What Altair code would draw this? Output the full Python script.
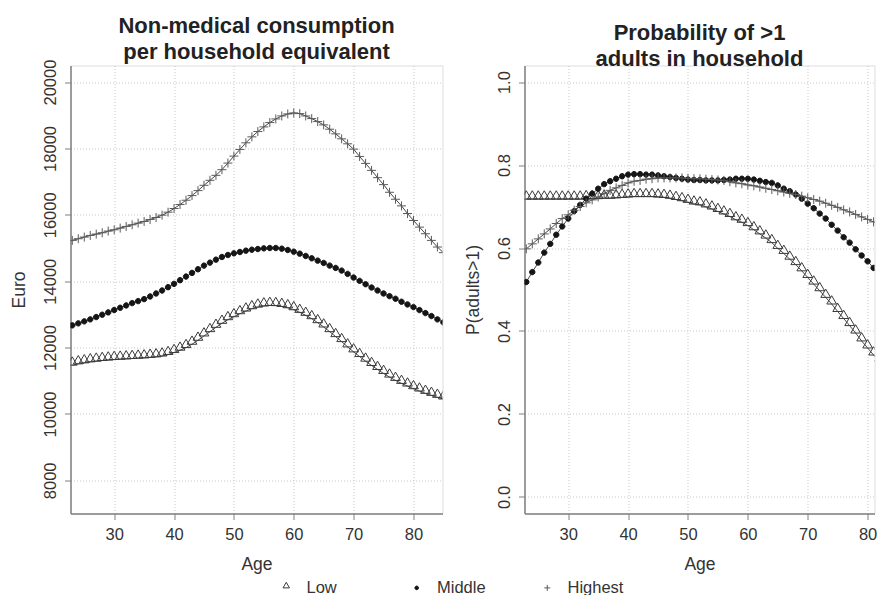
import altair as alt
import pandas as pd

ages = list(range(23, 86))
groups = ["Low", "Middle", "Highest"]

cons_low = [11470, 11510, 11540, 11570, 11590, 11610, 11625, 11640, 11650, 11660,
            11670, 11680, 11690, 11705, 11720, 11745, 11790, 11850, 11920, 12000,
            12100, 12220, 12350, 12480, 12610, 12730, 12840, 12930, 13020, 13100,
            13170, 13220, 13255, 13270, 13265, 13240, 13200, 13140, 13060, 12970,
            12870, 12750, 12620, 12480, 12330, 12180, 12020, 11870, 11730, 11590,
            11460, 11340, 11220, 11110, 11010, 10920, 10840, 10760, 10690, 10620,
            10560, 10500, 10450]
cons_mid = [12670, 12730, 12790, 12850, 12920, 12990, 13060, 13130, 13200, 13270,
            13340, 13400, 13460, 13540, 13630, 13720, 13820, 13920, 14030, 14140,
            14250, 14360, 14470, 14560, 14650, 14730, 14790, 14840, 14880, 14920,
            14950, 14970, 14990, 15000, 15000, 14980, 14940, 14890, 14830, 14760,
            14690, 14620, 14550, 14470, 14400, 14320, 14220, 14110, 14010, 13910,
            13810, 13720, 13630, 13550, 13470, 13380, 13300, 13220, 13130, 13040,
            12950, 12850, 12760]
cons_high = [15230, 15280, 15330, 15380, 15420, 15460, 15510, 15550, 15600, 15650,
             15700, 15750, 15800, 15860, 15920, 15990, 16080, 16190, 16310, 16440,
             16580, 16730, 16890, 17040, 17190, 17360, 17560, 17770, 17970, 18170,
             18350, 18510, 18650, 18780, 18890, 18980, 19040, 19070, 19050, 18980,
             18900, 18810, 18710, 18580, 18440, 18290, 18140, 17980, 17760, 17550,
             17340, 17120, 16910, 16680, 16470, 16270, 16040, 15830, 15630, 15430,
             15230, 15030, 14860]

prob_low = [0.718, 0.718, 0.718, 0.718, 0.718, 0.718, 0.718, 0.718, 0.718, 0.718,
            0.719, 0.719, 0.719, 0.720, 0.720, 0.721, 0.722, 0.723, 0.724, 0.724,
            0.724, 0.724, 0.723, 0.722, 0.720, 0.717, 0.714, 0.710, 0.706, 0.704,
            0.699, 0.694, 0.688, 0.682, 0.676, 0.668, 0.662, 0.654, 0.644, 0.634,
            0.624, 0.613, 0.599, 0.587, 0.573, 0.560, 0.545, 0.529, 0.513, 0.497,
            0.481, 0.465, 0.447, 0.430, 0.413, 0.395, 0.376, 0.359, 0.342, 0.327,
            0.311, 0.296, 0.281]
prob_mid = [0.518, 0.542, 0.565, 0.589, 0.610, 0.632, 0.652, 0.671, 0.689, 0.704,
            0.719, 0.731, 0.743, 0.754, 0.761, 0.767, 0.773, 0.777, 0.778, 0.778,
            0.777, 0.777, 0.775, 0.773, 0.771, 0.769, 0.767, 0.765, 0.764, 0.764,
            0.763, 0.763, 0.763, 0.764, 0.765, 0.767, 0.767, 0.767, 0.765, 0.762,
            0.759, 0.757, 0.751, 0.743, 0.737, 0.729, 0.719, 0.707, 0.696, 0.683,
            0.671, 0.656, 0.642, 0.626, 0.613, 0.597, 0.582, 0.568, 0.552, 0.538,
            0.524, 0.510, 0.496]
prob_high = [0.598, 0.610, 0.622, 0.634, 0.646, 0.659, 0.671, 0.680, 0.691, 0.700,
             0.709, 0.716, 0.723, 0.731, 0.739, 0.745, 0.751, 0.757, 0.761, 0.763,
             0.766, 0.767, 0.769, 0.769, 0.769, 0.769, 0.769, 0.768, 0.767, 0.767,
             0.766, 0.765, 0.764, 0.763, 0.760, 0.757, 0.755, 0.752, 0.750, 0.747,
             0.744, 0.741, 0.738, 0.735, 0.732, 0.729, 0.725, 0.721, 0.717, 0.713,
             0.708, 0.703, 0.698, 0.692, 0.687, 0.681, 0.675, 0.669, 0.663, 0.656,
             0.650, 0.644, 0.638]

x_ticks = [30, 40, 50, 60, 70, 80]
cons_ticks = [8000, 10000, 12000, 14000, 16000, 18000, 20000]
prob_ticks = [0.0, 0.2, 0.4, 0.6, 0.8, 1.0]


def long_frame(low, mid, high):
    rows = []
    for g, vals in zip(groups, [low, mid, high]):
        for a, v in zip(ages, vals):
            rows.append({"age": a, "group": g, "value": v})
    return pd.DataFrame(rows)


cons_df = long_frame(cons_low, cons_mid, cons_high)
prob_df = long_frame(prob_low, prob_mid, prob_high)

FONT = "Liberation Sans"
TRI = "M-1.08,0L1.08,0L0,-1.85Z"
DOT = "M0.6,0A0.6,0.6,0,1,1,-0.6,0A0.6,0.6,0,1,1,0.6,0Z"
PLUS = "M-1,0L1,0M0,-1L0,1"

shape_scale = alt.Scale(domain=groups, range=[TRI, DOT, PLUS])
fill_scale = alt.Scale(domain=groups, range=["transparent", "#151515", "transparent"])
stroke_scale = alt.Scale(domain=groups, range=["#3a3a3a", "#151515", "#5a5a5a"])


def x_axis():
    return alt.Axis(values=x_ticks, title="Age", grid=True, gridDash=[1, 2],
                    gridColor="#c8c8c8", tickSize=6, tickColor="#808080",
                    domainColor="#808080", domainWidth=1.5, labelFontSize=16.5,
                    labelFont=FONT, labelColor="#333333", labelPadding=7,
                    titleFont=FONT, titleFontSize=17.5, titleFontWeight="normal",
                    titleColor="#333333", titlePadding=12)


def y_axis(values, fmt, title):
    return alt.Axis(values=values, format=fmt, title=title, grid=True,
                    gridDash=[1, 2], gridColor="#c8c8c8", tickSize=6,
                    tickColor="#808080", domainColor="#808080", domainWidth=1.5,
                    labelFontSize=16.5, labelFont=FONT, labelColor="#333333",
                    labelAngle=270, labelAlign="center", labelBaseline="bottom",
                    labelPadding=6.5, titleFont=FONT, titleFontSize=17.5,
                    titleFontWeight="normal", titleColor="#333333", titleX=-42)


def panel(df, xdom, ydom, yvals, fmt, ytitle, title, width, show_legend):
    x = alt.X("age:Q", scale=alt.Scale(domain=xdom, nice=False, zero=False), axis=x_axis())
    y = alt.Y("value:Q", scale=alt.Scale(domain=ydom, nice=False, zero=False),
              axis=y_axis(yvals, fmt, ytitle))
    if show_legend:
        leg = alt.Legend(orient="none", legendX=207.5, legendY=514, direction="horizontal",
                         title=None, columns=3, gridAlign="all", columnPadding=45.5,
                         padding=0, symbolSize=36, symbolStrokeWidth=1,
                         labelFontSize=16.5, labelFont=FONT, labelColor="#333333",
                         labelOffset=12)
    else:
        leg = None
    line = alt.Chart(df).mark_line(color="#1a1a1a", strokeWidth=0.8, clip=True).encode(
        x=x, y=y, detail="group:N")
    pts = alt.Chart(df).mark_point(size=81, strokeWidth=1, opacity=1, clip=True).encode(
        x=x, y=y,
        shape=alt.Shape("group:N", scale=shape_scale, legend=leg),
        fill=alt.Fill("group:N", scale=fill_scale, legend=leg),
        stroke=alt.Stroke("group:N", scale=stroke_scale, legend=leg),
    )
    return alt.layer(line, pts).properties(
        width=width, height=448,
        title=alt.TitleParams(text=title, font=FONT, fontSize=22, fontWeight="bold",
                              color="#222222", lineHeight=26, anchor="middle", offset=-5),
    )


left = panel(cons_df, [22.7, 84.85], [7000, 20500], cons_ticks, "d", "Euro",
             ["Non-medical consumption", "\u00a0per household equivalent"], 372, True)
right = panel(prob_df, [22.7, 81.15], [-0.04, 1.04], prob_ticks, ".1f", "P(adults>1)",
              ["Probability of >1", "\u00a0adults in household"], 350, False)

chart = alt.hconcat(left, right, spacing=20).resolve_scale(
    shape="shared", fill="shared", stroke="shared"
).configure_view(stroke="#808080", strokeWidth=1.5).configure(
    padding={"left": 1.5, "top": 6.5, "right": 0, "bottom": 0}, background="white"
)

chart.save("out.html", embed_options={"renderer": "svg", "actions": False})
